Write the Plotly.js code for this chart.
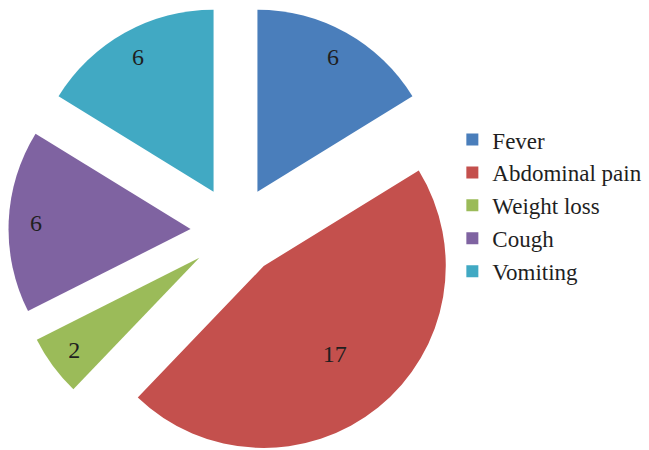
<!DOCTYPE html>
<html>
<head>
<meta charset="utf-8">
<script src="https://cdn.plot.ly/plotly-3.0.1.min.js"></script>
<style>
  html, body { margin: 0; padding: 0; background: #ffffff; overflow: hidden; }
  #chart { width: 649px; height: 462px; }
</style>
</head>
<body>
<div id="chart"></div>
<script>
const categories = ["Fever", "Abdominal pain", "Weight loss", "Cough", "Vomiting"];
const counts = [6, 17, 2, 6, 6];
const sliceColors = ["#4a7ebb", "#c4504d", "#9bbb59", "#7f63a1", "#41a9c3"];

const pullAmount = 0.247;
const pulls = counts.map(() => pullAmount);
const clear = counts.map(() => "rgba(0,0,0,0)");
const biggest = counts.indexOf(Math.max(...counts));
const outerText = counts.map((v, i) => i === biggest ? "" : String(v));
const innerText = counts.map((v, i) => i === biggest ? String(v) : "");

const dom = { x: [0, 0.7257], y: [0, 1] };
const serif = "'Liberation Serif', 'Times New Roman', Times, serif";
const labelFont = { family: serif, size: 24, color: "#1f1f1f" };

const common = {
  type: "pie",
  labels: categories,
  values: counts,
  sort: false,
  direction: "clockwise",
  rotation: 0,
  pull: pulls,
  domain: dom
};

const mainTrace = Object.assign({}, common, {
  marker: { colors: sliceColors, line: { width: 0 } },
  textinfo: "none",
  hoverinfo: "label+value",
  showlegend: true
});

const outerLabels = Object.assign({}, common, {
  hole: 0.7,
  marker: { colors: clear, line: { width: 0 } },
  text: outerText,
  textinfo: "text",
  textposition: "inside",
  insidetextorientation: "horizontal",
  textfont: labelFont,
  hoverinfo: "skip",
  showlegend: false
});

const innerLabels = Object.assign({}, common, {
  hole: 0.24,
  marker: { colors: clear, line: { width: 0 } },
  text: innerText,
  textinfo: "text",
  textposition: "inside",
  insidetextorientation: "horizontal",
  textfont: labelFont,
  hoverinfo: "skip",
  showlegend: false
});

const layout = {
  width: 649,
  height: 462,
  margin: { l: 0, r: 0, t: 4, b: 4 },
  paper_bgcolor: "#ffffff",
  plot_bgcolor: "#ffffff",
  font: { family: serif },
  showlegend: true,
  legend: {
    x: 0.697,
    xanchor: "left",
    y: 0.556,
    yanchor: "middle",
    font: { family: serif, size: 23, color: "#1f1f1f" },
    bgcolor: "rgba(0,0,0,0)",
    traceorder: "normal"
  }
};

Plotly.newPlot("chart", [mainTrace, outerLabels, innerLabels], layout, { staticPlot: true, displayModeBar: false });
</script>
</body>
</html>
